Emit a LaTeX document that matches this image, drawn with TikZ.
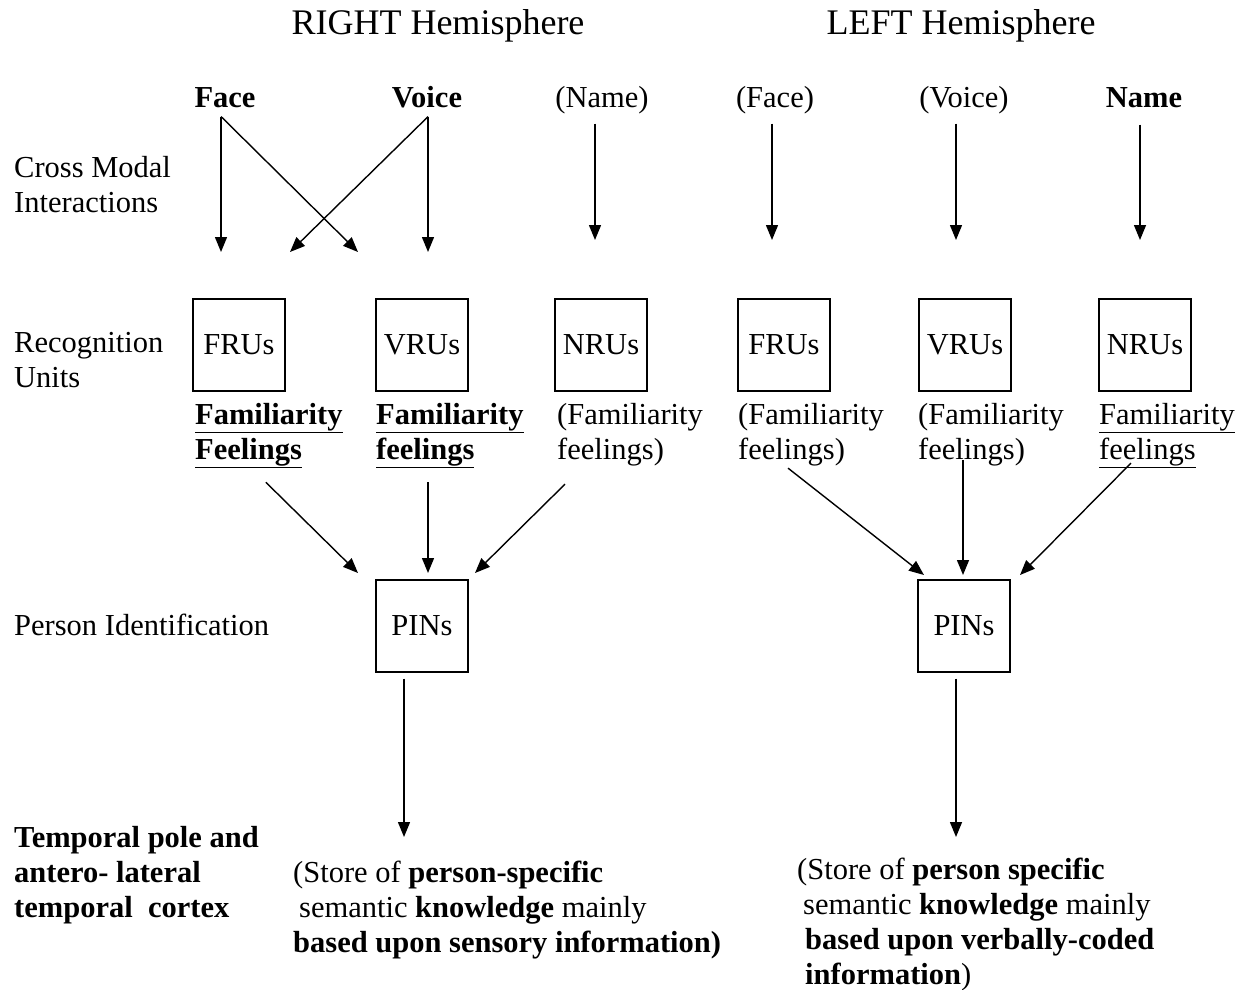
\documentclass[tikz,border=0pt]{standalone}
\usepackage{fontspec}
\setmainfont{Liberation Serif}
\usetikzlibrary{arrows.meta}

\tikzset{
  txt/.style={inner sep=0pt, font=\fontsize{30.5}{35}\selectfont},
  head/.style={inner sep=0pt, anchor=base, font=\fontsize{36}{40}\selectfont},
  lab/.style={txt, align=left, anchor=north west},
  unit/.style={txt, draw, line width=1.4pt, minimum size=92pt},
  arr/.style={line width=1.4pt, -{Triangle[length=15pt,width=12pt]}}
}

\begin{document}
\begin{tikzpicture}[x=1pt,y=-1pt]
\useasboundingbox (0,0) rectangle (1245,989);
% hemispheres
\node[head] (hright) at (438,34) {RIGHT Hemisphere};
\node[head] (hleft) at (961,34) {LEFT Hemisphere};
% inputs
\node[txt,anchor=base] (faceR) at (225,107) {\textbf{Face}};
\node[txt,anchor=base] (voiceR) at (427,107) {\textbf{Voice}};
\node[txt,anchor=base] (nameR) at (602,107) {(Name)};
\node[txt,anchor=base] (faceL) at (775,107) {(Face)};
\node[txt,anchor=base] (voiceL) at (964,107) {(Voice)};
\node[txt,anchor=base] (nameL) at (1144,107) {\textbf{Name}};
% row labels
\node[lab] (cross) at (14,156) {Cross Modal\\Interactions};
\node[lab] (recog) at (14,332) {Recognition\\Units};
\node[txt,anchor=base west] (ident) at (14,635) {Person Identification};
\node[lab] (temporal) at (14,826) {\textbf{Temporal pole and}\\\textbf{antero- lateral}\\\textbf{temporal\ \ cortex}};
% recognition units
\node[unit] (fruR) at (239,345) {FRUs};
\node[unit] (vruR) at (422,345) {VRUs};
\node[unit] (nruR) at (601,345) {NRUs};
\node[unit] (fruL) at (784,345) {FRUs};
\node[unit] (vruL) at (965,345) {VRUs};
\node[unit] (nruL) at (1145,345) {NRUs};
% familiarity feelings
\node[lab] (famR1) at (195,403) {\underline{\textbf{Familiarity}}\\\underline{\textbf{Feelings}}};
\node[lab] (famR2) at (376,403) {\underline{\textbf{Familiarity}}\\\underline{\textbf{feelings}}};
\node[lab] (famR3) at (557,403) {(Familiarity\\feelings)};
\node[lab] (famL1) at (738,403) {(Familiarity\\feelings)};
\node[lab] (famL2) at (918,403) {(Familiarity\\feelings)};
\node[lab] (famL3) at (1099,403) {\underline{Familiarity}\\\underline{feelings}};
% person identity nodes
\node[unit] (pinR) at (422,626) {PINs};
\node[unit] (pinL) at (964,626) {PINs};
% semantic stores
\node[lab] (storeR) at (293,861) {(Store of \textbf{person-specific}\\\hspace*{6pt}semantic \textbf{knowledge} mainly\\\textbf{based upon sensory information)}};
\node[lab] (storeL) at (797,858) {(Store of \textbf{person specific}\\\hspace*{6pt}semantic \textbf{knowledge} mainly\\\hspace*{8pt}\textbf{based upon verbally-coded}\\\hspace*{8pt}\textbf{information})};

% arrow tips
\coordinate (t1) at (221,252);
\coordinate (t2) at (358,252);
\coordinate (t3) at (290,252);
\coordinate (t4) at (428,252);
\coordinate (t5) at (595,240);
\coordinate (t6) at (772,240);
\coordinate (t7) at (956,240);
\coordinate (t8) at (1140,240);
\coordinate (p1) at (358,573);
\coordinate (p2) at (428,573);
\coordinate (p3) at (475,573);
\coordinate (p4) at (924,575);
\coordinate (p5) at (963,575);
\coordinate (p6) at (1020,575);
\coordinate (sR) at (404,837);
\coordinate (sL) at (956,837);

% cross modal interactions
\draw[arr] (faceR.south -| t1) ++(0,9) -- (t1);
\draw[arr] (faceR.south -| t1) ++(0,9) -- (t2);
\draw[arr] (voiceR.south -| t4) ++(0,9) -- (t3);
\draw[arr] (voiceR.south -| t4) ++(0,9) -- (t4);
\draw[arr, shorten <=10pt] (nameR.south -| t5) -- (t5);
\draw[arr, shorten <=10pt] (faceL.south -| t6) -- (t6);
\draw[arr, shorten <=10pt] (voiceL.south -| t7) -- (t7);
\draw[arr, shorten <=17pt] (nameL.south -| t8) -- (t8);
% to PINs
\draw[arr] (famR1.south) ++(-3,14) -- (p1);
\draw[arr] (famR2.south -| p2) ++(0,14) -- (p2);
\draw[arr] (famR3.south west) ++(8,18) -- (p3);
\draw[arr] (famL1.south) ++(-23,2) -- (p4);
\draw[arr] (famL2.south -| p5) ++(0,-6) -- (p5);
\draw[arr] (famL3.south) ++(-36,-5) -- (p6);
% to semantic stores
\draw[arr, shorten <=6pt] (pinR.south -| sR) -- (sR);
\draw[arr, shorten <=6pt] (pinL.south -| sL) -- (sL);
\end{tikzpicture}
\end{document}
